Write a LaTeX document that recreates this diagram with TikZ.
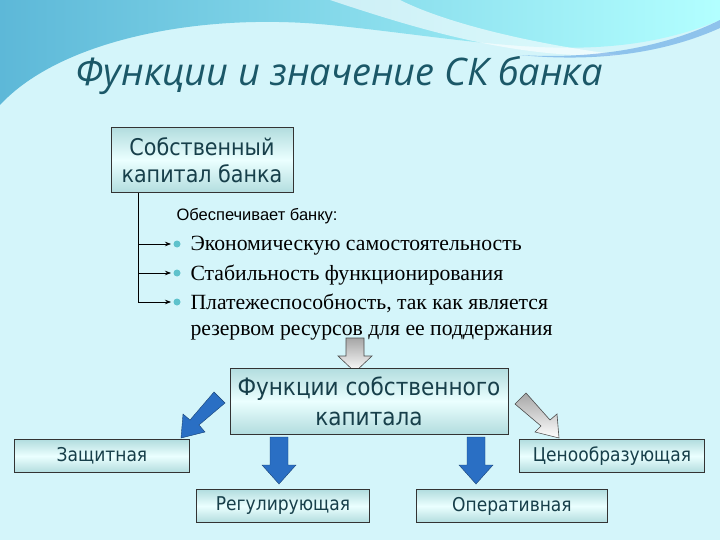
\documentclass[tikz,border=0pt]{standalone}
\usepackage{fontspec}
\setmainfont{Liberation Serif}
\newfontfamily\boxfont{DejaVu Sans Condensed}
\newfontfamily\titlefont{Open Sans}
\newfontfamily\smallfont{Liberation Sans}
\usetikzlibrary{arrows.meta}
\definecolor{bg}{HTML}{D4F5FA}
\definecolor{wave}{HTML}{5DB8D8}
\definecolor{titlec}{HTML}{1B5868}
\definecolor{boxtxt}{HTML}{173F4A}
\definecolor{barrow}{HTML}{2A6FC4}
\definecolor{bulletc}{HTML}{5EC2CC}
\tikzset{
  fbox/.style={draw=black!80, line width=0.8pt, left color=bg!60!teal!60, right color=bg!60!teal!60, middle color=cyan!8, shading angle=0, inner sep=0pt, font=\boxfont, text=boxtxt, align=center},
  blue arrow/.style={fill=barrow, draw=barrow!60!black, line width=0.4pt},
  gray arrow/.style={top color=gray!70, bottom color=white, draw=gray!60!black, line width=0.6pt},
}
\begin{document}
\begin{tikzpicture}[x=1pt,y=-1pt]
\useasboundingbox (0,0) rectangle (720,540);
\fill[bg] (0,0) rectangle (720,540);
% wave
\shade[left color=wave, right color=cyan!30] (0,0) -- (720,0) -- (720,20) .. controls (600,70) and (480,40) .. (330,25) .. controls (200,12) and (60,40) .. (0,105) -- cycle;
\fill[white,opacity=0.6] (330,0) .. controls (420,30) and (520,60) .. (620,55) .. controls (540,45) and (450,25) .. (400,0) -- cycle;
\fill[wave!80!blue,opacity=0.5] (520,55) .. controls (600,60) and (670,45) .. (720,20) -- (720,28) .. controls (660,55) and (590,62) .. (520,55) -- cycle;
% title
\node[font=\titlefont\itshape\fontsize{38}{44}\selectfont, text=titlec, anchor=base west] (title) at (72,86) {Функции и значение СК банка};
% box 1
\node[fbox, minimum width=182, minimum height=65, font=\boxfont\fontsize{23}{27}\selectfont] (sk) at (202,160) {Собственный\\капитал банка};
\node[font=\smallfont\fontsize{16.5}{18}\selectfont, anchor=base west] (obes) at (173,221) {Обеспечивает банку:};
\coordinate (c0) at (138,193);
\coordinate (c1) at (138,244);
\coordinate (c2) at (138,273);
\coordinate (c3) at (138,302);
\draw[line width=0.7pt] (c0) -- (c3);
\foreach \y/\t [count=\i] in {251/{Экономическую самостоятельность},280/{Стабильность функционирования},309/{Платежеспособность, так как является}}{
  \fill[bulletc] (177,\y-7) circle (3.5);
  \node[font=\fontsize{21.7}{24}\selectfont, anchor=base west] (b\i) at (187,\y) {\t};
}
\node[font=\fontsize{21.7}{24}\selectfont, anchor=base west] (b4) at (187,335) {резервом ресурсов для ее поддержания};
\draw[-{Stealth[length=6pt]}, line width=0.7pt] (c1) -- (171,244);
\draw[-{Stealth[length=6pt]}, line width=0.7pt] (c2) -- (171,273);
\draw[-{Stealth[length=6pt]}, line width=0.7pt] (c3) -- (171,302);
% hollow arrow
\draw[gray arrow] (346,338) -- (364,338) -- (364,356) -- (372,356) -- (355,372) -- (338,356) -- (346,356) -- cycle;
% functions box
\node[fbox, minimum width=278, minimum height=66, font=\boxfont\fontsize{24}{30}\selectfont] (fk) at (369,401) {Функции собственного\\капитала};
% lower boxes
\node[fbox, minimum width=175, minimum height=33, font=\boxfont\fontsize{19}{22}\selectfont] (z) at (102,456) {Защитная};
\node[fbox, minimum width=185, minimum height=33, font=\boxfont\fontsize{19}{22}\selectfont] (c) at (612,456) {Ценообразующая};
\node[fbox, minimum width=173, minimum height=33, font=\boxfont\fontsize{19}{22}\selectfont] (r) at (283,506) {Регулирующая};
\node[fbox, minimum width=191, minimum height=33, font=\boxfont\fontsize{19}{22}\selectfont] (o) at (512,506) {Оперативная};
% blue down arrows
\foreach \cx in {279,476}{
  \draw[blue arrow] (\cx-9,437) -- (\cx+9,437) -- (\cx+9,465) -- (\cx+17,465) -- (\cx,484) -- (\cx-17,465) -- (\cx-9,465) -- cycle;
}
% diagonal left blue arrow
\draw[blue arrow] (214,392) -- (225,403) -- (199,425) -- (205,432) -- (181,438) -- (183,414) -- (190,420) -- cycle;
% diagonal right gray arrow
\draw[gray arrow] (526,393) -- (515,404) -- (541,426) -- (535,432) -- (559,438) -- (557,414) -- (550,420) -- cycle;
\end{tikzpicture}
\end{document}
